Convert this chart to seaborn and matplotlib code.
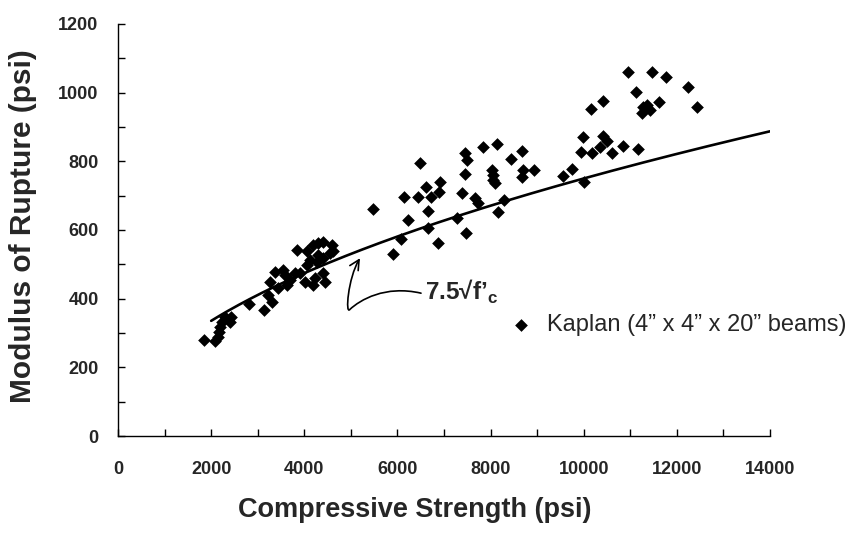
import matplotlib
matplotlib.use("Agg")
import matplotlib.pyplot as plt
from matplotlib.path import Path
from matplotlib.patches import FancyArrowPatch
import numpy as np
import pandas as pd
import seaborn as sns

# Kaplan beam tests: compressive strength (psi) and modulus of rupture (psi)
strength = [
    1850, 2080, 2150, 2175, 2190, 2225, 2300, 2420, 2405,
    2820, 3135, 3300, 3230, 3265, 3370, 3550, 3440, 3620, 3690, 3800, 3590,
    3840, 4050, 4015, 4195, 4050, 4120, 4195, 4300, 4410, 4590, 4300, 4410,
    4550, 4265, 4230, 4410, 4445, 3910, 4620,
    5480, 6485, 6150, 6435, 6605, 6915, 6715, 6900, 6665, 6235, 6665, 6075,
    5910, 6865, 7380, 7450, 7490, 7450, 7275, 7470, 7665, 7735, 7845, 8130,
    8025, 8045, 8060, 8095, 8155, 8290, 8430, 8670, 8705, 8680, 8940,
    10960, 11460, 11770, 12230, 12425, 11125, 10405, 10150, 11245, 11350,
    11425, 11625, 11280, 9990, 10420, 10495, 10350, 9940, 10170, 10615,
    10850, 11160, 9755, 9550, 10005,
]
rupture = [
    280, 278, 289, 304, 318, 333, 346, 346, 333,
    384, 367, 391, 411, 449, 479, 483, 430, 440, 454, 474, 469,
    542, 540, 449, 440, 498, 513, 556, 561, 566, 556, 527, 518,
    532, 508, 459, 474, 449, 474, 540,
    661, 796, 695, 695, 726, 741, 695, 712, 655, 629, 605, 574,
    529, 561, 709, 823, 804, 762, 636, 590, 692, 678, 841, 850,
    775, 760, 746, 736, 652, 687, 807, 830, 775, 755, 775,
    1061, 1061, 1046, 1017, 957, 1003, 976, 951, 940, 964,
    950, 974, 959, 872, 874, 860, 841, 826, 825, 823,
    845, 836, 777, 757, 741,
]

# ACI estimate 7.5*sqrt(f'c)
fc_range = np.linspace(2000, 14000, 200)
aci_mor = 7.5 * np.sqrt(fc_range)

x_ticks = list(range(0, 14001, 2000))
y_ticks = list(range(0, 1201, 200))
x_tick_labels = [str(v) for v in x_ticks]
y_tick_labels = [str(v) for v in y_ticks]

sns.set_theme(style="white")
plt.rcParams["font.family"] = ["Liberation Sans", "DejaVu Sans"]
plt.rcParams["mathtext.fontset"] = "custom"
plt.rcParams["mathtext.bf"] = "Liberation Sans:bold"
plt.rcParams["mathtext.rm"] = "Liberation Sans"

fig = plt.figure(figsize=(8.56, 5.34), dpi=100)
ax = fig.add_axes([0.1379, 0.1835, 0.7616, 0.7716])

df = pd.DataFrame({"strength": strength, "rupture": rupture})
sns.scatterplot(data=df, x="strength", y="rupture", marker="D", color="black",
                s=42, linewidth=0, ax=ax,
                label="Kaplan (4\u201d x 4\u201d x 20\u201d beams)", zorder=3)
sns.lineplot(x=fc_range, y=aci_mor, color="black", linewidth=1.9, ax=ax,
             zorder=2, legend=False)

ax.set_xlim(0, 14000)
ax.set_ylim(0, 1200)
ax.set_xticks(range(1000, 14000, 2000), minor=True)
ax.set_yticks(range(100, 1200, 200), minor=True)
ax.tick_params(axis="both", which="both", direction="in", length=5, width=1,
               color="black", bottom=True, left=True)
ax.tick_params(axis="x", which="major", pad=18)
ax.tick_params(axis="y", which="major", pad=14)
ax.set_xticks(x_ticks)
ax.set_yticks(y_ticks)
ax.set_xticklabels(x_tick_labels, fontweight="bold", fontsize=13)
ax.set_yticklabels(y_tick_labels, fontweight="bold", fontsize=13)

for side in ("top", "right"):
    ax.spines[side].set_visible(False)
for side in ("left", "bottom"):
    ax.spines[side].set_color("black")
    ax.spines[side].set_linewidth(1)

ax.set_xlabel("Compressive Strength (psi)", fontsize=19.5, fontweight="bold")
ax.xaxis.set_label_coords(0.455, -0.148)
ax.set_ylabel("Modulus of Rupture (psi)", fontsize=21.5, fontweight="bold")
ax.yaxis.set_label_coords(-0.124, 0.51)

leg = ax.legend(loc="upper left", bbox_to_anchor=(0.567, 0.318), frameon=False,
                fontsize=17, handletextpad=0.1, borderaxespad=0, markerscale=1.0)

# Label for the ACI curve with a curved pointer
ax.text(6600, 398, "7.5\u221Af\u2019$_\\mathbf{c}$", fontsize=17.5, fontweight="bold",
        ha="left", va="baseline")
verts = [(6506, 416), (5733, 440), (5196, 396), (4981, 369),
         (4874, 350), (4938, 460), (5196, 518)]
codes = [Path.MOVETO, Path.CURVE4, Path.CURVE4, Path.CURVE4,
         Path.CURVE4, Path.CURVE4, Path.CURVE4]
arrow = FancyArrowPatch(path=Path(verts, codes),
                        arrowstyle="->,head_length=7,head_width=3.5",
                        color="black", linewidth=1.2, transform=ax.transData)
ax.add_patch(arrow)

fig.savefig("out.png", dpi=100, facecolor="white")
